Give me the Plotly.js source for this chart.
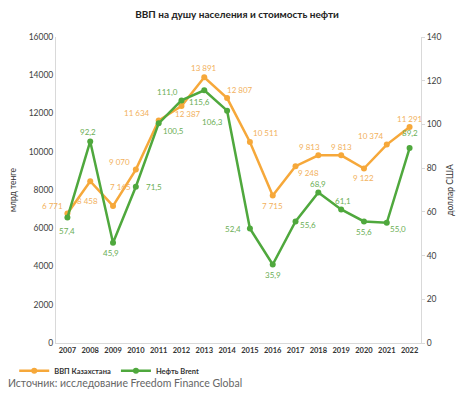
<!DOCTYPE html>
<html><head><meta charset="utf-8">
<script src="https://cdn.plot.ly/plotly-3.0.1.min.js"></script>
<style>html,body{margin:0;padding:0;background:#fff}#c{width:474px;height:397px}</style>
</head><body><div id="c"></div>
<script>
const years = ['2007','2008','2009','2010','2011','2012','2013','2014','2015','2016','2017','2018','2019','2020','2021','2022'];
const gdp = [6771, 8458, 7165, 9070, 11634, 12387, 13891, 12807, 10511, 7715, 9248, 9813, 9813, 9122, 10374, 11291];
const brent = [57.4, 92.2, 45.9, 71.5, 100.5, 111.0, 115.6, 106.3, 52.4, 35.9, 55.6, 68.9, 61.1, 55.6, 55.0, 89.2];
const gdpName = 'ВВП Казахстана';
const brentName = 'Нефть Brent';

// label offsets (px) — styling only
const gdpOff = [[-15,8],[-3,-20],[7,19],[-16,8],[-22,8],[7,-8],[0,9],[13,8],[16,9],[0,-11],[13,-7],[-9,8],[0,8],[0,-9],[-16,9],[0,8]];
const brentOff = [[0,-13],[-2,9],[-2,-10],[18,0],[15,-8],[-14,8],[-5,-12],[-15,-11],[-17,-1],[0,-10],[12,-4],[0,8],[2,8],[0,-11],[11,-6],[0,15]];

const orange = '#F6A83A', green = '#4FA83D';
const orangeTxt = '#F2B15C', greenTxt = '#6AAE55';
const fmt = v => String(v).replace(/\B(?=(\d{3})+(?!\d))/g, '\u00a0');
const ann = [];
years.forEach((y,i)=>{
  ann.push({x:i, y:gdp[i], xref:'x', yref:'y', text:fmt(gdp[i]), showarrow:false,
    xshift:gdpOff[i][0], yshift:gdpOff[i][1], font:{family:'Lato, sans-serif', size:8, color:orangeTxt}});
  ann.push({x:i, y:brent[i], xref:'x', yref:'y2', text:brent[i].toFixed(1).replace('.',','), showarrow:false,
    xshift:brentOff[i][0], yshift:brentOff[i][1], font:{family:'Lato, sans-serif', size:8, color:greenTxt}});
});
ann.push({xref:'paper', yref:'paper', x:-0.137, y:-0.131, xanchor:'left', yanchor:'middle', showarrow:false,
  text:'Источник: исследование Freedom Finance Global', font:{family:'Lato, sans-serif', size:10.5, color:'#666'}});

const traces = [
  {x:years, y:gdp, name:gdpName, type:'scatter', mode:'lines+markers', yaxis:'y',
   line:{color:orange, width:2.5}, marker:{color:orange, size:6}},
  {x:years, y:brent, name:brentName, type:'scatter', mode:'lines+markers', yaxis:'y2',
   line:{color:green, width:2.5}, marker:{color:green, size:6}}
];
const tickFont = {family:'Lato, sans-serif', size:8.5, color:'#404040'};
const layout = {
  width:474, height:397,
  margin:{l:56, r:53, t:37, b:54},
  paper_bgcolor:'#fff', plot_bgcolor:'#fff',
  title:{text:'<b>ВВП на душу населения и стоимость нефти</b>', x:0.5, xanchor:'center', y:0.963, yanchor:'middle',
    font:{family:'Lato, sans-serif', size:10, color:'#222'}},
  showlegend:true,
  legend:{orientation:'h', xref:'container', yref:'container', x:0.03, y:0.066, xanchor:'left', yanchor:'middle',
    font:{family:'Lato, sans-serif', size:7.5, color:'#333', weight:'bold'}, itemwidth:30, tracegroupgap:0},
  xaxis:{type:'category', range:[-0.5, years.length-0.5], showgrid:false, showline:true, linecolor:'#d9d9d9', linewidth:1, ticks:'',
    tickfont:{family:'Lato, sans-serif', size:7.5, color:'#333', weight:'bold'}, zeroline:false, fixedrange:true},
  yaxis:{range:[0,16000], dtick:2000, showgrid:false, showline:true, linecolor:'#d9d9d9', zeroline:false,
    tickfont:tickFont, ticks:'', tickformat:'d',
    title:{text:'млрд тенге', font:{family:'Lato, sans-serif', size:8.5, color:'#333'}, standoff:10}},
  yaxis2:{range:[0,140], dtick:20, overlaying:'y', side:'right', showgrid:false, showline:true, linecolor:'#d9d9d9', zeroline:false,
    tickfont:tickFont, ticks:'outside', ticklen:3, tickcolor:'#d9d9d9',
    title:{text:'доллар США', font:{family:'Lato, sans-serif', size:8.5, color:'#333'}, standoff:6}},
  annotations:ann
};
Plotly.newPlot('c', traces, layout, {displayModeBar:false, staticPlot:true});
</script></body></html>
